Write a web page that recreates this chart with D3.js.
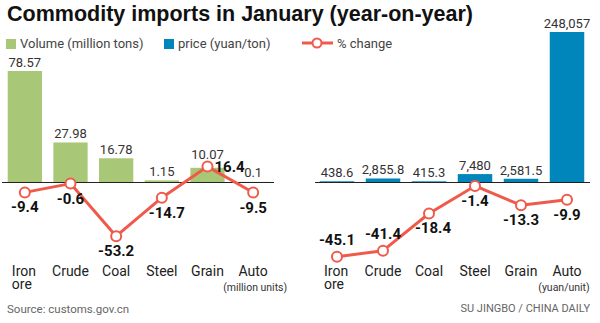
<!DOCTYPE html>
<html>
<head>
<meta charset="utf-8">
<script src="https://cdn.jsdelivr.net/npm/d3@7"></script>
<style>
  body { margin: 0; background: #fff; }
  svg { display: block; font-family: Roboto, "Liberation Sans", sans-serif; }
</style>
</head>
<body>
<svg width="600" height="323"></svg>
<script>
// commodity imports, january, year-on-year
var categories = ["Iron ore", "Crude", "Coal", "Steel", "Grain", "Auto"];
var volume = [78.57, 27.98, 16.78, 1.15, 10.07, 0.1];
var volumeChange = [-9.4, -0.6, -53.2, -14.7, 16.4, -9.5];
var price = [438.6, 2855.8, 415.3, 7480, 2581.5, 248057];
var priceChange = [-45.1, -41.4, -18.4, -1.4, -13.3, -9.9];
var volumeUnit = "(million units)";
var priceUnit = "(yuan/unit)";

var GREEN = "#a8c777", BLUE = "#0086bb", RED = "#ef5a4b";

var svg = d3.select("svg");
var base = 182;

svg.append("text")
    .attr("x", 7).attr("y", 21)
    .attr("font-family", "'Liberation Sans', Arial, sans-serif")
    .attr("font-weight", "bold").attr("font-size", 22)
    .attr("textLength", 466).attr("lengthAdjust", "spacingAndGlyphs")
    .attr("fill", "#111")
    .text("Commodity imports in January (year-on-year)");

// legend
var legend = svg.append("g").attr("font-size", 13).attr("fill", "#444");
legend.append("rect").attr("x", 6).attr("y", 39).attr("width", 10).attr("height", 10).attr("fill", GREEN);
legend.append("text").attr("x", 20).attr("y", 48).text("Volume (million tons)");
legend.append("rect").attr("x", 164).attr("y", 39).attr("width", 10).attr("height", 10).attr("fill", BLUE);
legend.append("text").attr("x", 178).attr("y", 48).text("price (yuan/ton)");
legend.append("line").attr("x1", 302).attr("x2", 333).attr("y1", 43).attr("y2", 43)
    .attr("stroke", RED).attr("stroke-width", 3);
legend.append("circle").attr("cx", 317).attr("cy", 43).attr("r", 4.5)
    .attr("fill", "#fff").attr("stroke", RED).attr("stroke-width", 2);
legend.append("text").attr("x", 337).attr("y", 48).text("% change");

function panel(opts) {
  var g = svg.append("g");
  var x = d3.scaleBand().domain(categories).range(opts.range)
      .paddingInner(0.25).paddingOuter(0.125);
  var cx = function(d) { return x(d) + x.bandwidth() / 2; };
  var rows = categories.map(function(c, i) {
    return { cat: c, value: opts.values[i], change: opts.changes[i] };
  });

  g.selectAll(".bar").data(rows).enter().append("rect")
      .attr("class", "bar")
      .attr("x", function(d) { return x(d.cat); })
      .attr("width", x.bandwidth())
      .attr("y", function(d) { return opts.y(d.value); })
      .attr("height", function(d) { return base - opts.y(d.value); })
      .attr("fill", opts.color);

  // value labels sit on the bar, lifted clear of a marker that pokes above it
  g.selectAll(".val").data(rows).enter().append("text")
      .attr("class", "val")
      .attr("x", function(d) { return cx(d.cat); })
      .attr("y", function(d) {
        return Math.min(Math.min(opts.y(d.value), base - 1) - 4, opts.p(d.change) - 8);
      })
      .attr("text-anchor", "middle").attr("font-size", 13).attr("fill", "#333")
      .text(function(d) { return d3.format(",")(d.value); });

  g.append("line")
      .attr("x1", opts.axis[0]).attr("x2", opts.axis[1])
      .attr("y1", base + 0.5).attr("y2", base + 0.5)
      .attr("stroke", "#222").attr("stroke-width", 1);

  var line = d3.line()
      .x(function(d) { return cx(d.cat); })
      .y(function(d) { return opts.p(d.change); });
  g.append("path").datum(rows)
      .attr("d", line).attr("fill", "none")
      .attr("stroke", RED).attr("stroke-width", 3).attr("stroke-linejoin", "round");
  g.selectAll(".pt").data(rows).enter().append("circle")
      .attr("class", "pt")
      .attr("cx", function(d) { return cx(d.cat); })
      .attr("cy", function(d) { return opts.p(d.change); })
      .attr("r", 5).attr("fill", "#fff").attr("stroke", RED).attr("stroke-width", 2);

  g.selectAll(".chg").data(rows).enter().append("text")
      .attr("class", "chg")
      .attr("font-size", 15).attr("font-weight", "bold").attr("fill", "#111")
      .attr("text-anchor", function(d) { return d.change > 0 ? "start" : "middle"; })
      .attr("x", function(d) { return d.change > 0 ? cx(d.cat) + 7 : cx(d.cat) + (opts.nudge[d.cat] || 0); })
      .attr("y", function(d) {
        var py = opts.p(d.change);
        if (d.change > 0) return py + 5;
        if (opts.above.indexOf(d.cat) >= 0) return py - 12;
        return py + 20;
      })
      .text(function(d) { return String(d.change); });

  // category labels
  var cat = g.selectAll(".cat").data(rows).enter().append("text")
      .attr("class", "cat")
      .attr("font-size", 14).attr("fill", "#222")
      .attr("y", 276);
  cat.each(function(d) {
    var t = d3.select(this);
    var words = d.cat.split(" ");
    if (words.length > 1) {
      var left = cx(d.cat) - 13;
      words.forEach(function(w, i) {
        t.append("tspan").attr("x", left).attr("dy", i ? 13 : 0).text(w);
      });
    } else {
      t.attr("x", cx(d.cat)).attr("text-anchor", "middle").text(d.cat);
    }
  });
  g.append("text")
      .attr("x", cx("Auto") + opts.unitShift).attr("y", 291)
      .attr("text-anchor", "middle").attr("font-size", 10.5).attr("fill", "#333")
      .text(opts.unit);
}

panel({
  range: [2, 276], axis: [2, 274], color: GREEN,
  values: volume, changes: volumeChange,
  y: d3.scaleLinear().domain([0, 80]).range([base, 69]),
  p: d3.scaleLinear().domain([-60, 20]).range([243, 163]),
  above: [], nudge: { "Steel": 5 }, unit: volumeUnit, unitShift: 2
});

panel({
  range: [314, 590], axis: [315, 590], color: BLUE,
  values: price, changes: priceChange,
  y: d3.scalePow().exponent(0.84).domain([0, 248057]).range([base, 32]),
  p: d3.scaleLinear().domain([-50, 0]).range([264.6, 183.7]),
  above: ["Iron ore", "Crude"], nudge: { "Coal": 4 }, unit: priceUnit, unitShift: -3
});

svg.append("text")
    .attr("x", 7).attr("y", 313)
    .attr("font-size", 11.5).attr("fill", "#666")
    .text("Source: customs.gov.cn");
svg.append("text")
    .attr("x", 590).attr("y", 312)
    .attr("text-anchor", "end").attr("font-size", 11).attr("fill", "#666")
    .text("SU JINGBO / CHINA DAILY");
</script>
</body>
</html>
